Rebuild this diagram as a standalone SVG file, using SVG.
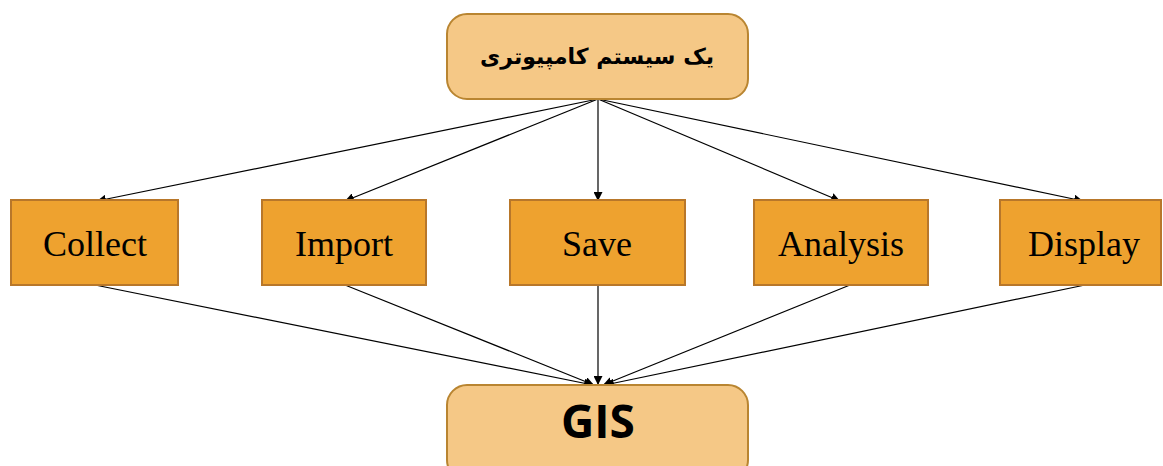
<svg xmlns="http://www.w3.org/2000/svg" width="1163" height="466" viewBox="0 0 1163 466">
<style>
.rnd{fill:#F5C886;stroke:#B98531;stroke-width:2}
.box{fill:#EEA22F;stroke:#B8772A;stroke-width:2}
.lbl{font-family:"Liberation Serif","Times New Roman",serif;font-size:36px;fill:#000;text-anchor:middle}
.con{stroke:#000;stroke-width:1.2;fill:none;marker-end:url(#ah)}
</style>
<defs>
<marker id="ah" viewBox="0 0 10 10" refX="10" refY="5" markerWidth="9" markerHeight="9" markerUnits="userSpaceOnUse" orient="auto">
<path d="M0,0 L10,5 L0,10 z" fill="#000"/>
</marker>
</defs>
<rect width="1163" height="466" fill="#fff"/>
<g id="connectors">
<line class="con" x1="598" y1="99" x2="97" y2="201"/>
<line class="con" x1="598" y1="99" x2="345" y2="201"/>
<line class="con" x1="598" y1="99" x2="598" y2="201"/>
<line class="con" x1="598" y1="99" x2="840" y2="201"/>
<line class="con" x1="598" y1="99" x2="1083" y2="201"/>
<line class="con" x1="95" y1="285" x2="593" y2="385"/>
<line class="con" x1="345" y1="285" x2="594" y2="385"/>
<line class="con" x1="598" y1="285" x2="598" y2="385"/>
<line class="con" x1="850" y1="285" x2="603" y2="385"/>
<line class="con" x1="1085" y1="285" x2="605" y2="385"/>
</g>
<g id="top">
<rect class="rnd" x="447" y="14" width="301" height="85" rx="20"/>
<text x="597" y="64" direction="rtl" text-anchor="middle" font-family="'DejaVu Sans','Noto Sans',sans-serif" font-weight="bold" font-size="22">یک سیستم کامپیوتری</text>
</g>
<g id="collect">
<rect class="box" x="11" y="200" width="167" height="85"/>
<text class="lbl" x="95" y="256">Collect</text>
</g>
<g id="import">
<rect class="box" x="262" y="200" width="164" height="85"/>
<text class="lbl" x="344" y="256">Import</text>
</g>
<g id="save">
<rect class="box" x="510" y="200" width="175" height="85"/>
<text class="lbl" x="597" y="256">Save</text>
</g>
<g id="analysis">
<rect class="box" x="754" y="200" width="174" height="85"/>
<text class="lbl" x="841" y="256">Analysis</text>
</g>
<g id="display">
<rect class="box" x="1000" y="200" width="161" height="85"/>
<text class="lbl" x="1084" y="256">Display</text>
</g>
<g id="gis">
<rect class="rnd" x="447" y="385" width="301" height="95" rx="20"/>
<text x="598" y="438" text-anchor="middle" font-family="'Open Sans','Noto Sans',sans-serif" font-weight="bold" font-size="46">GIS</text>
</g>
</svg>
